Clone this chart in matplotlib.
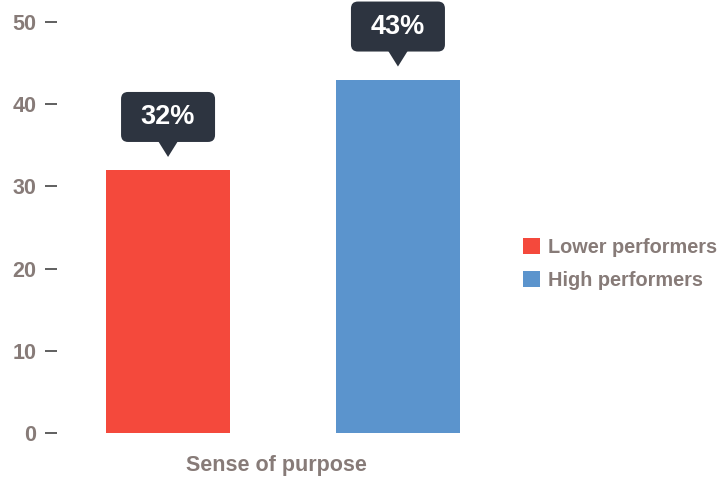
import matplotlib.pyplot as plt
import matplotlib.transforms as mtransforms
from matplotlib.patches import FancyBboxPatch, Polygon

category = "Sense of purpose"
series = ["Lower performers", "High performers"]
values = [32, 43]
labels = ["32%", "43%"]
colors = ["#f4493c", "#5b94cd"]

text_col = "#877b78"
dark = "#2d3440"

plt.rcParams['font.family'] = ['Liberation Sans', 'DejaVu Sans']

fig = plt.figure(figsize=(7.17, 4.79), dpi=100)
ax = fig.add_axes([57 / 717, 46 / 479, 452 / 717, 411 / 479])

offsets = [-0.5, 0.5]
bars = ax.bar(offsets, values, width=0.54, color=colors, label=series, zorder=2)

ax.set_xlim(-0.983, 0.983)
ax.set_ylim(0, 50)
ax.set_yticks([0, 10, 20, 30, 40, 50])
ax.set_xticks([-0.03])
ax.set_xticklabels([category])
for s in ax.spines.values():
    s.set_visible(False)
ax.tick_params(axis='y', length=9, width=1.2, color='#444444', pad=6,
               labelsize=15.5, labelcolor=text_col)
ax.tick_params(axis='x', length=0, pad=16, labelsize=15.5, labelcolor=text_col)
for t in ax.get_yticklabels() + ax.get_xticklabels():
    t.set_fontweight('bold')

# callouts above the bars (sizes in inches, 1 in = 100 px)
for x, v, lab in zip(offsets, values, labels):
    tr = fig.dpi_scale_trans + mtransforms.ScaledTranslation(x, v, ax.transData)
    box = FancyBboxPatch((-0.41, 0.34), 0.82, 0.38,
                         boxstyle="round,pad=0.06,rounding_size=0.07",
                         fc=dark, ec='none', transform=tr, clip_on=False, zorder=3)
    ax.add_patch(box)
    tri = Polygon([(-0.1, 0.29), (0.1, 0.29), (0, 0.13)], closed=True,
                  fc=dark, ec='none', transform=tr, clip_on=False, zorder=3)
    ax.add_patch(tri)
    ax.text(0, 0.53, lab, transform=tr, ha='center', va='center',
            color='white', fontsize=19.5, fontweight='bold', zorder=4)

leg = ax.legend(loc='upper left', bbox_to_anchor=(0.729, 0.503),
                bbox_transform=fig.transFigure, frameon=False,
                handlelength=0.85, handleheight=0.85, handletextpad=0.42,
                labelspacing=0.7, borderpad=0, borderaxespad=0,
                prop={'size': 14.3, 'weight': 'bold'})
for t in leg.get_texts():
    t.set_color(text_col)

fig.savefig("out.png", dpi=100)
